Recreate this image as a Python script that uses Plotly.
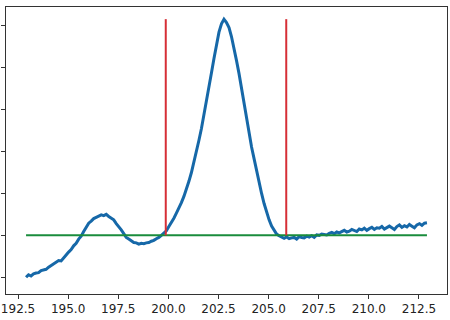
import numpy as np
import plotly.graph_objects as go

# Spectrum sampled on a regular 0.125 grid from 192.9 to 212.9
x_start, x_step = 192.9, 0.125
signal = [
    -1.00, -0.94, -0.97, -0.92, -0.90, -0.89, -0.84, -0.82, -0.81, -0.76,
    -0.72, -0.70, -0.66, -0.60, -0.61, -0.53, -0.47, -0.40, -0.34, -0.25,
    -0.19, -0.09, -0.02, 0.09, 0.18, 0.29, 0.34, 0.40, 0.43, 0.46,
    0.49, 0.47, 0.50, 0.45, 0.40, 0.37, 0.28, 0.21, 0.13, 0.04,
    -0.05, -0.09, -0.14, -0.17, -0.18, -0.21, -0.19, -0.20, -0.18, -0.17,
    -0.14, -0.12, -0.08, -0.05, 0.00, 0.05, 0.11, 0.21, 0.30, 0.41,
    0.53, 0.64, 0.78, 0.93, 1.09, 1.29, 1.50, 1.74, 2.00, 2.27,
    2.55, 2.86, 3.18, 3.52, 3.88, 4.22, 4.55, 4.85, 5.05, 5.16,
    5.08, 4.96, 4.74, 4.49, 4.17, 3.86, 3.49, 3.15, 2.78, 2.45,
    2.11, 1.83, 1.53, 1.27, 1.00, 0.76, 0.55, 0.37, 0.22, 0.11,
    0.03, -0.01, -0.05, -0.07, -0.04, -0.08, -0.06, -0.05, -0.09, -0.03,
    -0.05, -0.06, -0.02, -0.04, -0.01, -0.05, 0.01, 0.00, 0.03, 0.02,
    0.01, 0.05, 0.07, 0.04, 0.08, 0.06, 0.09, 0.12, 0.08, 0.10,
    0.14, 0.11, 0.09, 0.15, 0.13, 0.17, 0.12, 0.16, 0.19, 0.14,
    0.18, 0.17, 0.21, 0.15, 0.19, 0.22, 0.18, 0.14, 0.21, 0.25,
    0.19, 0.23, 0.20, 0.26, 0.22, 0.18, 0.25, 0.28, 0.24, 0.29,
    0.30,
]
x = x_start + x_step * np.arange(len(signal))

# Baseline level and integration window
baseline = 0.0
window = [199.87, 205.88]
window_top = 5.16

y_ticks = [-1, 0, 1, 2, 3, 4, 5]
x_ticks = [192.5, 195.0, 197.5, 200.0, 202.5, 205.0, 207.5, 210.0, 212.5]

fig = go.Figure()
fig.add_trace(go.Scatter(x=x, y=signal, mode="lines",
                         line=dict(color="#1668a8", width=3)))
fig.add_trace(go.Scatter(x=[x[0], x[-1]], y=[baseline, baseline], mode="lines",
                         line=dict(color="#1a8c3c", width=2)))
for xv in window:
    fig.add_trace(go.Scatter(x=[xv, xv], y=[baseline, window_top], mode="lines",
                             line=dict(color="#d62f36", width=2)))

fig.update_layout(
    width=450, height=320,
    margin=dict(l=5, r=2, t=7, b=26),
    paper_bgcolor="white", plot_bgcolor="white",
    showlegend=False,
    font=dict(family="DejaVu Sans", size=12, color="#222"),
)
fig.update_xaxes(
    range=[191.9, 213.9], tickvals=x_ticks,
    ticktext=[f"{v:.1f}" for v in x_ticks],
    ticks="outside", ticklen=4, tickcolor="#333",
    showline=True, linecolor="#333", linewidth=1, mirror=True,
    showgrid=False, zeroline=False,
)
fig.update_yaxes(
    range=[-1.40, 5.45], tickvals=y_ticks, showticklabels=False,
    ticks="outside", ticklen=4, tickcolor="#333",
    showline=True, linecolor="#333", linewidth=1, mirror=True,
    showgrid=False, zeroline=False,
)

fig.write_html("out.html")
